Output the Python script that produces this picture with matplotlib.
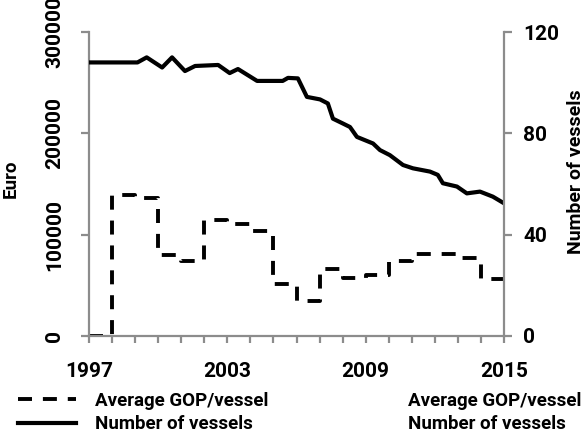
import matplotlib
matplotlib.use('Agg')
import matplotlib.pyplot as plt
from matplotlib.lines import Line2D
from matplotlib.ticker import FixedLocator, MultipleLocator

plt.rcParams['font.family'] = ['Roboto', 'DejaVu Sans']
plt.rcParams['font.weight'] = 'bold'

# Average GOP per vessel (Euro), one value per year
gop_years = [1997, 1998, 1999, 2000, 2001, 2002, 2003, 2004, 2005, 2006,
             2007, 2008, 2009, 2010, 2011, 2012, 2013, 2014, 2015]
gop_values = [0, 139000, 136000, 80000, 74000, 114000, 111000, 104000, 51000, 35000,
              66000, 57000, 60000, 74000, 81000, 81000, 77000, 56000, 56000]

# Number of vessels
vessel_time = [1997.0, 1999.1, 1999.5, 2000.17, 2000.6, 2001.16, 2001.6, 2002.6,
               2003.1, 2003.46, 2004.29, 2005.4, 2005.63, 2006.06, 2006.45, 2007.02,
               2007.36, 2007.58, 2008.01, 2008.32, 2008.62, 2009.32, 2009.62, 2010.05,
               2010.62, 2011.05, 2011.79, 2012.13, 2012.35, 2012.96, 2013.39, 2013.96,
               2014.52, 2015.0]
vessel_count = [108, 108, 110, 106, 110, 104.6, 106.6, 107,
                103.8, 105.4, 100.7, 100.7, 101.9, 101.7, 94.4, 93.4,
                91.8, 85.8, 83.9, 82.5, 78.6, 76.0, 73.4, 71.4,
                67.5, 66.2, 64.9, 63.6, 60.3, 59.0, 56.3, 57.0,
                55.0, 52.4]

year_labels = [1997, 2003, 2009, 2015]
euro_ticks = [0, 100000, 200000, 300000]
vessel_ticks = [0, 40, 80, 120]

grey = '#8c8c8c'

fig = plt.figure(figsize=(5.86, 4.45), dpi=100)
ax = fig.add_axes([0.152, 0.245, 0.708, 0.683])
ax2 = ax.twinx()

l1, = ax.step(gop_years, gop_values, where='post', color='black', lw=2.8,
              linestyle=(0, (3.6, 2.8)), label='Average GOP/vessel')
l2, = ax2.plot(vessel_time, vessel_count, color='black', lw=3.0,
               label='Number of vessels')

ax.set_xlim(1997, 2015)
ax.set_ylim(0, 300000)
ax2.set_ylim(0, 120)

ax.xaxis.set_major_locator(FixedLocator(year_labels))
ax.xaxis.set_minor_locator(MultipleLocator(1))
ax.set_yticks(euro_ticks)
ax2.set_yticks(vessel_ticks)

for a in (ax, ax2):
    a.spines['top'].set_visible(False)
    for s in ('left', 'right', 'bottom'):
        a.spines[s].set_color(grey)
        a.spines[s].set_linewidth(1.6)

ax.spines['right'].set_visible(False)
ax2.spines['left'].set_visible(False)
ax2.spines['bottom'].set_visible(False)

ax.tick_params(axis='x', which='both', length=5, width=1.6, color=grey,
               labelsize=15, pad=14)
ax.tick_params(axis='y', length=6, width=1.6, color=grey, labelsize=15, pad=12)
ax2.tick_params(axis='y', length=6, width=1.6, color=grey, labelsize=15, pad=8)

for lab in ax.get_yticklabels():
    lab.set_rotation(90)
    lab.set_va('center')

ax.set_ylabel('Euro', fontsize=13.5, fontweight='bold')
ax.yaxis.set_label_coords(-0.167, 0.518)
ax2.set_ylabel('Number of vessels', fontsize=14, fontweight='bold')
ax2.yaxis.set_label_coords(1.152, 0.541)

fig.legend(handles=[l1, l2], loc='upper left', bbox_to_anchor=(0.031, 0.12),
           frameon=False, fontsize=13.5, handlelength=3.1, handletextpad=1.0,
           labelspacing=0.3, borderpad=0, borderaxespad=0)

blank = [Line2D([], [], color='none'), Line2D([], [], color='none')]
fig.legend(handles=blank, labels=['Average GOP/vessel', 'Number of vessels'],
           loc='upper left', bbox_to_anchor=(0.696, 0.12),
           frameon=False, fontsize=13.5, handlelength=0, handletextpad=0,
           labelspacing=0.3, borderpad=0, borderaxespad=0)

fig.savefig('out.png', dpi=100)
